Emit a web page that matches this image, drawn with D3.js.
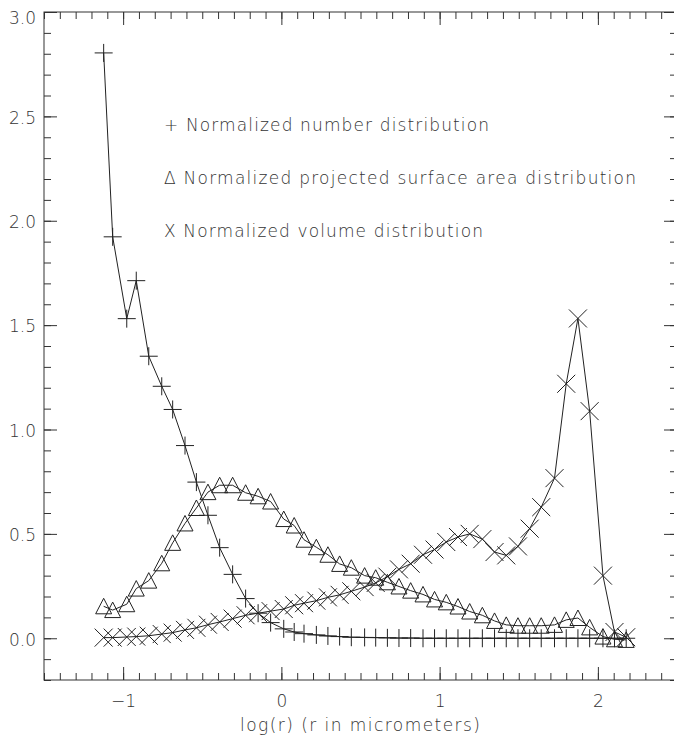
<!DOCTYPE html>
<html>
<head>
<meta charset="utf-8">
<script src="https://cdn.jsdelivr.net/npm/d3@7"></script>
<style>
  body { margin: 0; background: #fff; }
  text { font-family: "DejaVu Sans", "Liberation Sans", sans-serif; font-weight: 200; fill: #333; }
</style>
</head>
<body>
<div id="chart"></div>
<script>
// log(r) positions shared by the three distributions
var logR = [-1.123, -1.066, -0.977, -0.917, -0.838, -0.756, -0.687, -0.609, -0.537, -0.464,
  -0.390, -0.308, -0.226, -0.147, -0.068, 0.015, 0.081, 0.143, 0.221, 0.294,
  0.368, 0.442, 0.526, 0.596, 0.670, 0.743, 0.817, 0.895, 0.968, 1.042,
  1.116, 1.190, 1.270, 1.347, 1.421, 1.495, 1.569, 1.642, 1.726, 1.800,
  1.874, 1.948, 2.032, 2.105, 2.179];

var numberDist = [2.804, 1.923, 1.531, 1.713, 1.351, 1.207, 1.096, 0.923, 0.748, 0.589,
  0.434, 0.306, 0.190, 0.120, 0.075, 0.045, 0.030, 0.022, 0.016, 0.011,
  0.008, 0.005, 0.004, 0.003, 0.002, 0.001, 0.001, 0, 0, 0,
  0, 0, 0, 0, 0, 0, 0, 0, 0, 0,
  0, 0, 0, 0, 0];

var areaDist = [0.153, 0.135, 0.163, 0.238, 0.276, 0.359, 0.457, 0.550, 0.624, 0.700,
  0.733, 0.733, 0.697, 0.680, 0.655, 0.571, 0.540, 0.472, 0.436, 0.400,
  0.356, 0.338, 0.300, 0.290, 0.268, 0.248, 0.228, 0.210, 0.186, 0.172,
  0.152, 0.128, 0.110, 0.083, 0.064, 0.060, 0.060, 0.060, 0.064, 0.088,
  0.097, 0.052, 0.008, -0.005, -0.008];

var volumeDist = [0.003, 0.003, 0.006, 0.008, 0.012, 0.020, 0.027, 0.040, 0.050, 0.065,
  0.078, 0.094, 0.110, 0.120, 0.130, 0.140, 0.158, 0.168, 0.180, 0.196,
  0.208, 0.225, 0.245, 0.265, 0.295, 0.330, 0.357, 0.400, 0.425, 0.461,
  0.485, 0.500, 0.475, 0.413, 0.397, 0.440, 0.525, 0.628, 0.767, 1.219,
  1.532, 1.088, 0.300, 0.030, 0.005];

var xTicks = [-1, 0, 1, 2];
var yTicks = [0.0, 0.5, 1.0, 1.5, 2.0, 2.5, 3.0];
var legendLabels = ["+ Normalized number distribution",
  "\u0394 Normalized projected surface area distribution",
  "X Normalized volume distribution"];
var xTitle = "log(r) (r in micrometers)";

var svgWidth = 674;
var svgHeight = 738;

var margin = {
  top: 12,
  right: -3,
  bottom: 58,
  left: 44
};

var width = svgWidth - margin.left - margin.right;
var height = svgHeight - margin.top - margin.bottom;

var svg = d3.select("#chart")
  .append("svg")
  .attr("width", svgWidth)
  .attr("height", svgHeight);

var chartGroup = svg.append("g")
  .attr("transform", `translate(${margin.left}, ${margin.top})`);

var xLinearScale = d3.scaleLinear().domain([-1.5, 2.5]).range([0, width]);
var yLinearScale = d3.scaleLinear().domain([-0.2, 3.0]).range([height, 0]);

var xMinor = d3.range(-15, 26).map(d => d / 10);
var yMinor = d3.range(-2, 31).map(d => d / 10);

// helper: draws ticks (no domain line) on a side
function drawAxis(axis, transform) {
  var g = chartGroup.append("g")
    .attr("transform", transform)
    .call(axis);
  g.select(".domain").remove();
  g.selectAll("line").attr("stroke", "#333");
  g.selectAll("text").attr("font-size", 17).attr("fill", "#333");
  return g;
}

// bottom + top
drawAxis(d3.axisBottom(xLinearScale).tickValues(xMinor).tickSize(-7).tickFormat(""), `translate(0, ${height})`);
var xAxis = drawAxis(d3.axisBottom(xLinearScale).tickValues(xTicks).tickSize(-13).tickPadding(15).tickFormat(d3.format("d")), `translate(0, ${height})`);
drawAxis(d3.axisTop(xLinearScale).tickValues(xMinor).tickSize(-7).tickFormat(""), "translate(0, 0)");
drawAxis(d3.axisTop(xLinearScale).tickValues(xTicks).tickSize(-13).tickFormat(""), "translate(0, 0)");

// left + right
drawAxis(d3.axisLeft(yLinearScale).tickValues(yMinor).tickSize(-7).tickFormat(""), "translate(0, 0)");
var yAxis = drawAxis(d3.axisLeft(yLinearScale).tickValues(yTicks).tickSize(-13).tickPadding(8).tickFormat(d3.format(".1f")), "translate(0, 0)");
drawAxis(d3.axisRight(yLinearScale).tickValues(yMinor).tickSize(-7).tickFormat(""), `translate(${width}, 0)`);
drawAxis(d3.axisRight(yLinearScale).tickValues(yTicks).tickSize(-13).tickFormat(""), `translate(${width}, 0)`);

yAxis.selectAll("text").attr("dy", d => d === 3 ? "0.66em" : "0.4em");

// frame
chartGroup.append("rect")
  .attr("width", width)
  .attr("height", height)
  .attr("fill", "none")
  .attr("stroke", "#333");

// markers
var plusPath = s => `M${-s},0H${s}M0,${-s}V${s}`;
var crossPath = s => `M${-s},${-s}L${s},${s}M${-s},${s}L${s},${-s}`;
var triPath = s => `M${-s},${s - 0.5}L0,${-s}L${s},${s - 0.5}Z`;

var series = [
  { values: numberDist, marker: plusPath(9) },
  { values: areaDist, marker: triPath(8) },
  { values: volumeDist, marker: crossPath(9) }
];

var line = d3.line()
  .x(d => xLinearScale(d[0]))
  .y(d => yLinearScale(d[1]));

series.forEach(function(s) {
  var pts = logR.map((x, i) => [x, s.values[i]]);
  chartGroup.append("path")
    .datum(pts)
    .attr("d", line)
    .attr("fill", "none")
    .attr("stroke", "#222")
    .attr("stroke-width", 1);

  chartGroup.selectAll(null)
    .data(pts)
    .enter()
    .append("path")
    .attr("transform", d => `translate(${xLinearScale(d[0])}, ${yLinearScale(d[1])})`)
    .attr("d", s.marker)
    .attr("fill", "none")
    .attr("stroke", "#222")
    .attr("stroke-width", 1);
});

// legend (plain text lines, as in the original)
var legendLens = [325, 472, 319];
svg.selectAll(".legend")
  .data(legendLabels)
  .enter()
  .append("text")
  .attr("class", "legend")
  .attr("x", 164)
  .attr("y", (d, i) => 131 + i * 53)
  .attr("font-size", 17)
  .attr("textLength", (d, i) => legendLens[i])
  .attr("lengthAdjust", "spacing")
  .text(d => d);

// x axis title
svg.append("text")
  .attr("x", 240)
  .attr("y", 731)
  .attr("font-size", 17)
  .attr("textLength", 240)
  .attr("lengthAdjust", "spacing")
  .text(xTitle);
</script>
</body>
</html>
